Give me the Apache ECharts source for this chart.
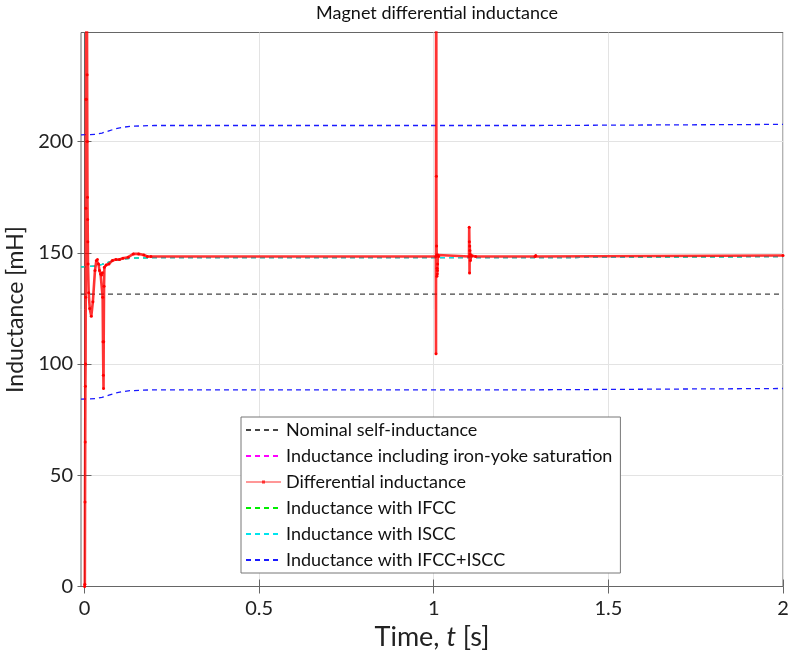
<!DOCTYPE html>
<html>
<head>
<meta charset="utf-8">
<script src="https://cdn.jsdelivr.net/npm/echarts@6/dist/echarts.min.js"></script>
<style>
  html, body { margin: 0; padding: 0; background: #fff; }
  #chart { width: 792px; height: 660px; }
</style>
</head>
<body>
<div id="chart"></div>
<script>
// Time axis ticks and inductance ticks
const xTicks = [0, 0.5, 1, 1.5, 2];
const yTicks = [0, 50, 100, 150, 200];

// Nominal self-inductance [mH]
const tNominal = [-0.01, 2];
const lNominal = [131.4, 131.4];

// Models with coupling currents (time in s, inductance in mH)
const tModel = [-0.01, 0.03, 0.05, 0.07, 0.09, 0.11, 0.13, 0.16, 0.2, 1.29, 1.292, 2];
const lIronYoke = [143.7, 144.0, 144.8, 145.8, 146.7, 147.2, 147.5, 147.7, 147.8, 147.8, 148.3, 148.3];
const lIFCC = [143.7, 144.0, 144.8, 145.8, 146.7, 147.2, 147.5, 147.7, 147.8, 147.8, 148.3, 148.3];
const lISCC = [143.7, 144.0, 144.8, 145.8, 146.7, 147.2, 147.5, 147.7, 147.8, 147.8, 148.3, 148.3];
const lBothUpper = [203.0, 203.2, 203.8, 204.8, 205.8, 206.4, 206.8, 207.0, 207.2, 207.2, 207.7, 207.7];
const lBothLower = [84.2, 84.4, 85.0, 86.0, 87.0, 87.6, 88.0, 88.2, 88.4, 88.4, 89.0, 89.0];

// Differential inductance computed from the simulated transient
const tDiff = [
  0.0005, 0.001, 0.0015, 0.002, 0.0025, 0.003, 0.0035, 0.004, 0.0045, 0.005,
  0.0055, 0.006, 0.007, 0.0075, 0.008, 0.0085, 0.009, 0.0095, 0.010, 0.012,
  0.015, 0.0195, 0.024, 0.030, 0.034, 0.037, 0.040, 0.043, 0.046, 0.049,
  0.051, 0.052, 0.053, 0.054, 0.0545, 0.055, 0.056, 0.057, 0.062, 0.070,
  0.080, 0.090, 0.100, 0.110, 0.125, 0.140, 0.155, 0.170, 0.180, 0.190,
  1.006, 1.0065, 1.007, 1.0075, 1.008, 1.0085, 1.009, 1.0095, 1.010, 1.0105,
  1.011, 1.012, 1.014,
  1.101, 1.1015, 1.102, 1.1025, 1.103, 1.1035, 1.104, 1.105, 1.107, 1.110, 1.120,
  1.290, 1.292, 2.0
];
const lDiff = [
  0, 1, 38, 65, 90, 100, 130, 170, 219, 219,
  260, 330, 260, 230, 200, 175, 165, 155, 145, 132,
  125, 121.5, 128, 142, 146.5, 147, 145, 142, 140.5, 140,
  141, 130, 110, 95, 89, 110, 135, 143.5, 144.5, 145,
  146.5, 147, 147, 147.5, 148, 149.5, 149.5, 149, 148.3, 148.3,
  148.3, 104.6, 400, 184.4, 153, 149, 139.5, 143, 140.5, 142,
  145, 149, 148.3,
  148.3, 161.5, 155, 140.9, 153, 151, 149.5, 146.5, 148.8, 148.5, 148.3,
  148.3, 148.8, 148.8
];

const pairs = (t, v) => t.map((x, i) => [x, v[i]]);

const font = 'Lato, "Open Sans", sans-serif';

const dashed = (name, t, v, color) => ({
  name: name,
  type: 'line',
  data: pairs(t, v),
  symbol: 'none',
  clip: true,
  lineStyle: { color: color, width: 1.3, type: [5, 4] },
  itemStyle: { color: color },
  z: 3
});

// Legend entry for a dashed line: keep the dashed stroke, hide the marker
const dashedEntry = name => ({ name: name, itemStyle: { opacity: 0 } });

const chart = echarts.init(document.getElementById('chart'), null, { renderer: 'canvas' });

chart.setOption({
  animation: false,
  backgroundColor: '#fff',
  title: {
    text: 'Magnet differential inductance',
    left: 432, top: -1, textAlign: 'center',
    textStyle: { fontFamily: font, fontSize: 18, fontWeight: 'normal', color: '#111' }
  },
  grid: {
    left: 81, right: 9, top: 32.5, bottom: 73.5,
    outerBoundsMode: 'none',
    show: true, borderColor: '#666', borderWidth: 1, backgroundColor: '#fff'
  },
  legend: {
    orient: 'vertical',
    left: 241, top: 417,
    backgroundColor: '#fff',
    borderColor: '#777', borderWidth: 1, borderRadius: 0,
    padding: [4, 8, 4, 4],
    itemWidth: 35, itemHeight: 14, itemGap: 8,
    textStyle: { fontFamily: font, fontSize: 18, color: '#111', lineHeight: 18 },
    data: [
      dashedEntry('Nominal self-inductance'),
      dashedEntry('Inductance including iron-yoke saturation'),
      {
        name: 'Differential inductance',
        icon: 'path://M0,0h0.01v0.01h-0.01z M0,6.5h35v1h-35z M16,5.5h3v3h-3z M34.99,13.99h0.01v0.01h-0.01z',
        itemStyle: { color: '#ff3030' }
      },
      dashedEntry('Inductance with IFCC'),
      dashedEntry('Inductance with ISCC'),
      dashedEntry('Inductance with IFCC+ISCC')
    ]
  },
  xAxis: [{
    type: 'value', min: -0.01, max: 2,
    position: 'bottom',
    axisLine: { show: true, lineStyle: { color: '#666' } },
    axisTick: { show: true, inside: true, length: 7, lineStyle: { color: '#666' },
      customValues: xTicks },
    axisLabel: { fontFamily: font, fontSize: 20, color: '#222', margin: 12,
      customValues: xTicks, formatter: v => String(v) },
    splitLine: { show: true, lineStyle: { color: '#e3e3e3' } },
    name: '{n|Time, }{i|t}{n| [s]}',
    nameLocation: 'middle', nameGap: 33,
    nameTextStyle: {
      rich: {
        n: { fontFamily: font, fontSize: 27, color: '#222' },
        i: { fontFamily: font, fontSize: 27, color: '#222', fontStyle: 'italic' }
      }
    }
  }, {
    type: 'value', min: -0.01, max: 2,
    position: 'top',
    axisLine: { show: false },
    axisTick: { show: true, inside: true, length: 7, lineStyle: { color: '#666' },
      customValues: xTicks },
    axisLabel: { show: false },
    splitLine: { show: false }
  }],
  yAxis: [{
    type: 'value', min: 0, max: 249,
    position: 'left',
    axisLine: { show: true, lineStyle: { color: '#666' } },
    axisTick: { show: true, inside: true, length: 7, lineStyle: { color: '#666' },
      customValues: yTicks },
    axisLabel: { fontFamily: font, fontSize: 20, color: '#222', margin: 8,
      customValues: yTicks },
    splitLine: { show: true, lineStyle: { color: '#e3e3e3' } },
    name: 'Inductance [mH]',
    nameLocation: 'middle', nameGap: 38,
    nameTextStyle: { fontFamily: font, fontSize: 23, color: '#222' }
  }, {
    type: 'value', min: 0, max: 249,
    position: 'right',
    axisLine: { show: false },
    axisTick: { show: true, inside: true, length: 7, lineStyle: { color: '#666' },
      customValues: yTicks },
    axisLabel: { show: false },
    splitLine: { show: false }
  }],
  series: [
    dashed('Nominal self-inductance', tNominal, lNominal, '#444'),
    dashed('Inductance including iron-yoke saturation', tModel, lIronYoke, '#ff00ff'),
    {
      name: 'Differential inductance',
      type: 'line',
      data: pairs(tDiff, lDiff),
      clip: true,
      showSymbol: true,
      symbol: 'circle',
      symbolSize: 3,
      lineStyle: { color: 'rgba(255,0,0,0.8)', width: 2.6 },
      itemStyle: { color: '#ff0000' },
      z: 4
    },
    dashed('Inductance with IFCC', tModel, lIFCC, '#00ee00'),
    dashed('Inductance with ISCC', tModel, lISCC, '#00e5ee'),
    dashed('Inductance with IFCC+ISCC', tModel, lBothUpper, '#1a1aff'),
    dashed('Inductance with IFCC+ISCC', tModel, lBothLower, '#1a1aff')
  ]
});
</script>
</body>
</html>
